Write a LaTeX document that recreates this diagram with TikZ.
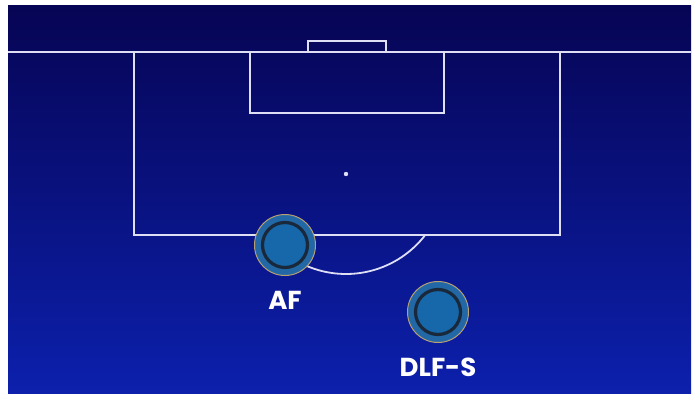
\documentclass[tikz,border=0pt]{standalone}
\usepackage{fontspec}
\setmainfont{Poppins}
\usepackage{tikz}
\definecolor{pitchtop}{RGB}{6,4,84}
\definecolor{pitchmid}{RGB}{3,10,145}
\definecolor{pitchbot}{RGB}{12,32,172}
\definecolor{pitchline}{RGB}{222,222,245}
\definecolor{ringgold}{RGB}{184,160,112}
\definecolor{ringblue}{RGB}{34,104,166}
\definecolor{ringdark}{RGB}{25,40,58}
\definecolor{playerfill}{RGB}{22,104,170}
\tikzset{
    pline/.style={draw=pitchline, line width=1.8pt},
    player/.style={circle, draw=ringgold, line width=1pt, fill=ringblue,
      minimum size=61pt, inner sep=0pt,
      path picture={\draw[ringdark, line width=3.2pt, fill=playerfill]
        (path picture bounding box.center) circle (22.5pt);}},
    plabel/.style={text=white, font=\fontsize{26}{26}\selectfont\bfseries, inner sep=0pt},
}

\begin{document}
\begin{tikzpicture}[x=1pt,y=-1pt]
  \useasboundingbox (0,0) rectangle (697,394);
  % BACKGROUND
  \shade[top color=pitchtop, middle color=pitchmid, bottom color=pitchbot] (8,5) rectangle (691,393);
  % Pitch lines
  \draw[pline] (8,52) -- (691,52);
  \draw[pline] (134,52) -- (134,235) -- (560,235) -- (560,52);
  \draw[pline] (250,52) -- (250,113) -- (444,113) -- (444,52);
  \draw[pline] (308,52) -- (308,41) -- (386,41) -- (386,52);
  \fill[pitchline] (346,174) circle (2.2pt);
  \draw[pline] (346,174) ++(37.6:100) arc[start angle=37.6, end angle=142.4, radius=100];
  % Players
  \foreach \n/\px/\py in {AF/285/245, DLF-S/438/312}{
    \node[player] (P-\n) at (\px,\py) {};
    \node[plabel, below=15pt] (L-\n) at (P-\n.south) {\n};
  }
\end{tikzpicture}
\end{document}
